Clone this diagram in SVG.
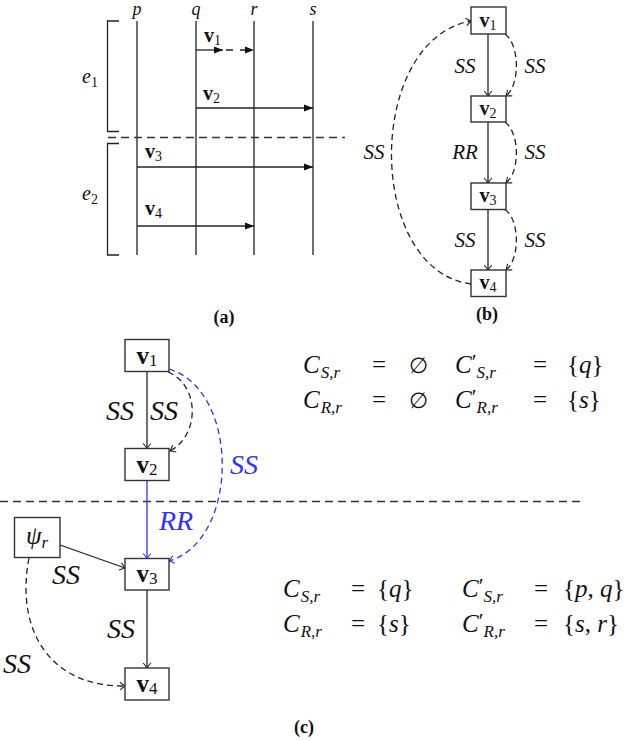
<svg xmlns="http://www.w3.org/2000/svg" width="640" height="740" viewBox="0 0 640 740">
<style>
.ln{stroke:#222;stroke-width:1.3;fill:none}
.dash{stroke:#222;stroke-width:1.3;fill:none;stroke-dasharray:6,4}
.hdash{stroke:#333;stroke-width:1.3;fill:none;stroke-dasharray:8,5}
.blue{stroke:#3030ff}
.box{fill:#fff;stroke:#333;stroke-width:1.4}
text{font-family:"Liberation Serif","DejaVu Serif",serif;fill:#111}
.m{font-style:italic}
.r{font-style:normal;font-weight:normal}
.b{font-weight:bold}
.bl{fill:#3030ff}
</style>
<defs>
<marker id="tri" viewBox="-9 -4 10 8" markerWidth="10" markerHeight="8" refX="0" refY="0" orient="auto" markerUnits="userSpaceOnUse">
<path d="M-9,-3.5 L0,0 L-9,3.5 Z" fill="#111"/>
</marker>
<marker id="vee" viewBox="-6 -5 7 10" markerWidth="7" markerHeight="10" refX="0" refY="0" orient="auto" markerUnits="userSpaceOnUse">
<path d="M-5,-3.8 Q-1.5,-1 0,0 Q-1.5,1 -5,3.8" fill="none" stroke="#222" stroke-width="1.1"/>
</marker>
<marker id="veeb" viewBox="-6 -5 7 10" markerWidth="7" markerHeight="10" refX="0" refY="0" orient="auto" markerUnits="userSpaceOnUse">
<path d="M-5,-3.8 Q-1.5,-1 0,0 Q-1.5,1 -5,3.8" fill="none" stroke="#3030ff" stroke-width="1.1"/>
</marker>
</defs>

<!-- ===== (a) ===== -->
<g id="a-lifelines">
<line class="ln" x1="137" y1="21" x2="137" y2="255"/>
<line class="ln" x1="196" y1="21" x2="196" y2="255"/>
<line class="ln" x1="254" y1="21" x2="254" y2="255"/>
<line class="ln" x1="313" y1="21" x2="313" y2="255"/>
<text class="m" x="137" y="15" font-size="18" text-anchor="middle">p</text>
<text class="m" x="196" y="15" font-size="18" text-anchor="middle">q</text>
<text class="m" x="254" y="15" font-size="18" text-anchor="middle">r</text>
<text class="m" x="313" y="15" font-size="18" text-anchor="middle">s</text>
</g>
<g id="a-brackets">
<path class="ln" d="M119,21 H107.5 V131.5 H119"/>
<path class="ln" d="M119,143.5 H107.5 V255 H119"/>
<text class="m" x="82" y="83" font-size="20">e<tspan class="r" font-size="14" dy="4">1</tspan></text>
<text class="m" x="82" y="200" font-size="20">e<tspan class="r" font-size="14" dy="4">2</tspan></text>
<line class="hdash" x1="108" y1="137.5" x2="345" y2="137.5"/>
</g>
<g id="a-messages">
<line class="ln" x1="196" y1="50" x2="223" y2="50" marker-end="url(#tri)"/>
<line class="ln" x1="226" y1="50" x2="254" y2="50" stroke-dasharray="7,7" marker-end="url(#tri)"/>
<line class="ln" x1="196" y1="108" x2="313" y2="108" marker-end="url(#tri)"/>
<line class="ln" x1="137" y1="167" x2="313" y2="167" marker-end="url(#tri)"/>
<line class="ln" x1="137" y1="226" x2="254" y2="226" marker-end="url(#tri)"/>
<text class="b" x="204" y="42" font-size="20">v<tspan class="r" font-size="14" dy="3">1</tspan></text>
<text class="b" x="203" y="100" font-size="20">v<tspan class="r" font-size="14" dy="3">2</tspan></text>
<text class="b" x="145" y="158" font-size="20">v<tspan class="r" font-size="14" dy="3">3</tspan></text>
<text class="b" x="145" y="215" font-size="20">v<tspan class="r" font-size="14" dy="3">4</tspan></text>
</g>
<text class="b" x="224" y="323" font-size="18" text-anchor="middle">(a)</text>

<!-- ===== (b) ===== -->
<g id="b-connectors">
<line class="ln" x1="488" y1="34" x2="488" y2="96" marker-end="url(#vee)"/>
<line class="ln" x1="488" y1="122" x2="488" y2="183" marker-end="url(#vee)"/>
<line class="ln" x1="488" y1="209.5" x2="488" y2="270" marker-end="url(#vee)"/>
<path class="dash" d="M505,34 C520,45 520,85 506,96" marker-end="url(#vee)"/>
<path class="dash" d="M505,122 C520,133 520,172 506,183" marker-end="url(#vee)"/>
<path class="dash" d="M505,209.5 C520,220 520,259 506,270" marker-end="url(#vee)"/>
<path class="dash" d="M471,284 C365,270 365,40 471,21" marker-end="url(#vee)"/>
<text class="m" x="465" y="73" font-size="21" text-anchor="middle">SS</text>
<text class="m" x="535" y="73" font-size="21" text-anchor="middle">SS</text>
<text class="m" x="465" y="159" font-size="21" text-anchor="middle">RR</text>
<text class="m" x="535" y="159" font-size="21" text-anchor="middle">SS</text>
<text class="m" x="374" y="159" font-size="21" text-anchor="middle">SS</text>
<text class="m" x="465" y="247" font-size="21" text-anchor="middle">SS</text>
<text class="m" x="535" y="247" font-size="21" text-anchor="middle">SS</text>
</g>
<g id="b-v1"><rect class="box" x="471" y="7" width="35" height="27"/><text class="b" x="488" y="27" font-size="20" text-anchor="middle">v<tspan class="r" font-size="14" dy="3">1</tspan></text></g>
<g id="b-v2"><rect class="box" x="471" y="96" width="35" height="26"/><text class="b" x="488" y="115" font-size="20" text-anchor="middle">v<tspan class="r" font-size="14" dy="3">2</tspan></text></g>
<g id="b-v3"><rect class="box" x="471" y="183" width="35" height="26.5"/><text class="b" x="488" y="202" font-size="20" text-anchor="middle">v<tspan class="r" font-size="14" dy="3">3</tspan></text></g>
<g id="b-v4"><rect class="box" x="471" y="270" width="35" height="26.5"/><text class="b" x="488" y="289" font-size="20" text-anchor="middle">v<tspan class="r" font-size="14" dy="3">4</tspan></text></g>
<text class="b" x="487" y="320" font-size="18" text-anchor="middle">(b)</text>

<!-- ===== (c) ===== -->
<line class="hdash" x1="0" y1="501.5" x2="580" y2="501.5"/>
<g id="c-connectors">
<line class="ln" x1="147" y1="371.5" x2="147" y2="448.5" marker-end="url(#vee)"/>
<line class="ln blue" x1="147" y1="480.5" x2="147" y2="558.5" marker-end="url(#veeb)"/>
<line class="ln" x1="147" y1="590" x2="147" y2="668" marker-end="url(#vee)"/>
<line class="ln" x1="60" y1="545" x2="125" y2="568" marker-end="url(#vee)"/>
<path class="dash" d="M168,372 C200,385 200,435 170,451" marker-end="url(#vee)"/>
<path class="dash blue" d="M169,369 C240,390 240,540 169,561" marker-end="url(#veeb)"/>
<path class="dash" d="M29,558 C15,630 50,687 125,686" marker-end="url(#vee)"/>
<text class="m" x="120" y="420" font-size="28" text-anchor="middle">SS</text>
<text class="m" x="164" y="420" font-size="28" text-anchor="middle">SS</text>
<text class="m bl" x="244" y="474" font-size="28" text-anchor="middle">SS</text>
<text class="m bl" x="176" y="530" font-size="28" text-anchor="middle">RR</text>
<text class="m" x="66" y="584" font-size="28" text-anchor="middle">SS</text>
<text class="m" x="121" y="638" font-size="28" text-anchor="middle">SS</text>
<text class="m" x="17" y="673" font-size="28" text-anchor="middle">SS</text>
</g>
<g id="c-v1"><rect class="box" x="125" y="339.5" width="44" height="32"/><text class="b" x="147" y="363.5" font-size="25" text-anchor="middle">v<tspan class="r" font-size="17" dy="2">1</tspan></text></g>
<g id="c-v2"><rect class="box" x="125" y="448.5" width="44" height="32"/><text class="b" x="147" y="472.5" font-size="25" text-anchor="middle">v<tspan class="r" font-size="17" dy="2">2</tspan></text></g>
<g id="c-v3"><rect class="box" x="125" y="558.5" width="44" height="31.5"/><text class="b" x="147" y="582" font-size="25" text-anchor="middle">v<tspan class="r" font-size="17" dy="2">3</tspan></text></g>
<g id="c-v4"><rect class="box" x="125" y="668" width="44" height="32"/><text class="b" x="147" y="692" font-size="25" text-anchor="middle">v<tspan class="r" font-size="17" dy="2">4</tspan></text></g>
<g id="c-psi"><rect class="box" x="14.5" y="517.5" width="45.5" height="40"/><text class="m" x="37" y="544" font-size="25" text-anchor="middle">ψ<tspan font-size="17" dy="4">r</tspan></text></g>

<g id="eq-top">
<text class="m" x="303" y="373" font-size="25">C<tspan font-size="17" dx="1" dy="5">S,r</tspan></text>
<text class="r" x="372" y="373" font-size="25">=</text>
<text class="r" x="409" y="373" font-size="22">∅</text>
<text class="m" x="455" y="373" font-size="25">C<tspan class="r" font-size="22" dy="-4">′</tspan><tspan font-size="17" dy="9">S,r</tspan></text>
<text class="r" x="533" y="373" font-size="25">=</text>
<text class="r" x="567" y="373" font-size="25">{<tspan class="m">q</tspan>}</text>

<text class="m" x="303" y="408" font-size="25">C<tspan font-size="17" dx="1" dy="5">R,r</tspan></text>
<text class="r" x="372" y="408" font-size="25">=</text>
<text class="r" x="409" y="408" font-size="22">∅</text>
<text class="m" x="455" y="408" font-size="25">C<tspan class="r" font-size="22" dy="-4">′</tspan><tspan font-size="17" dy="9">R,r</tspan></text>
<text class="r" x="533" y="408" font-size="25">=</text>
<text class="r" x="567" y="408" font-size="25">{<tspan class="m">s</tspan>}</text>
</g>

<g id="eq-bottom">
<text class="m" x="283" y="597" font-size="25">C<tspan font-size="17" dx="1" dy="5">S,r</tspan></text>
<text class="r" x="351" y="597" font-size="25">=</text>
<text class="r" x="377" y="597" font-size="25">{<tspan class="m">q</tspan>}</text>
<text class="m" x="462" y="597" font-size="25">C<tspan class="r" font-size="22" dy="-4">′</tspan><tspan font-size="17" dy="9">S,r</tspan></text>
<text class="r" x="534" y="597" font-size="25">=</text>
<text class="r" x="563" y="597" font-size="25">{<tspan class="m">p</tspan>, <tspan class="m">q</tspan>}</text>

<text class="m" x="283" y="632" font-size="25">C<tspan font-size="17" dx="1" dy="5">R,r</tspan></text>
<text class="r" x="351" y="632" font-size="25">=</text>
<text class="r" x="377" y="632" font-size="25">{<tspan class="m">s</tspan>}</text>
<text class="m" x="462" y="632" font-size="25">C<tspan class="r" font-size="22" dy="-4">′</tspan><tspan font-size="17" dy="9">R,r</tspan></text>
<text class="r" x="534" y="632" font-size="25">=</text>
<text class="r" x="563" y="632" font-size="25">{<tspan class="m">s</tspan>, <tspan class="m">r</tspan>}</text>
</g>
<text class="b" x="304" y="733" font-size="18" text-anchor="middle">(c)</text>
</svg>
